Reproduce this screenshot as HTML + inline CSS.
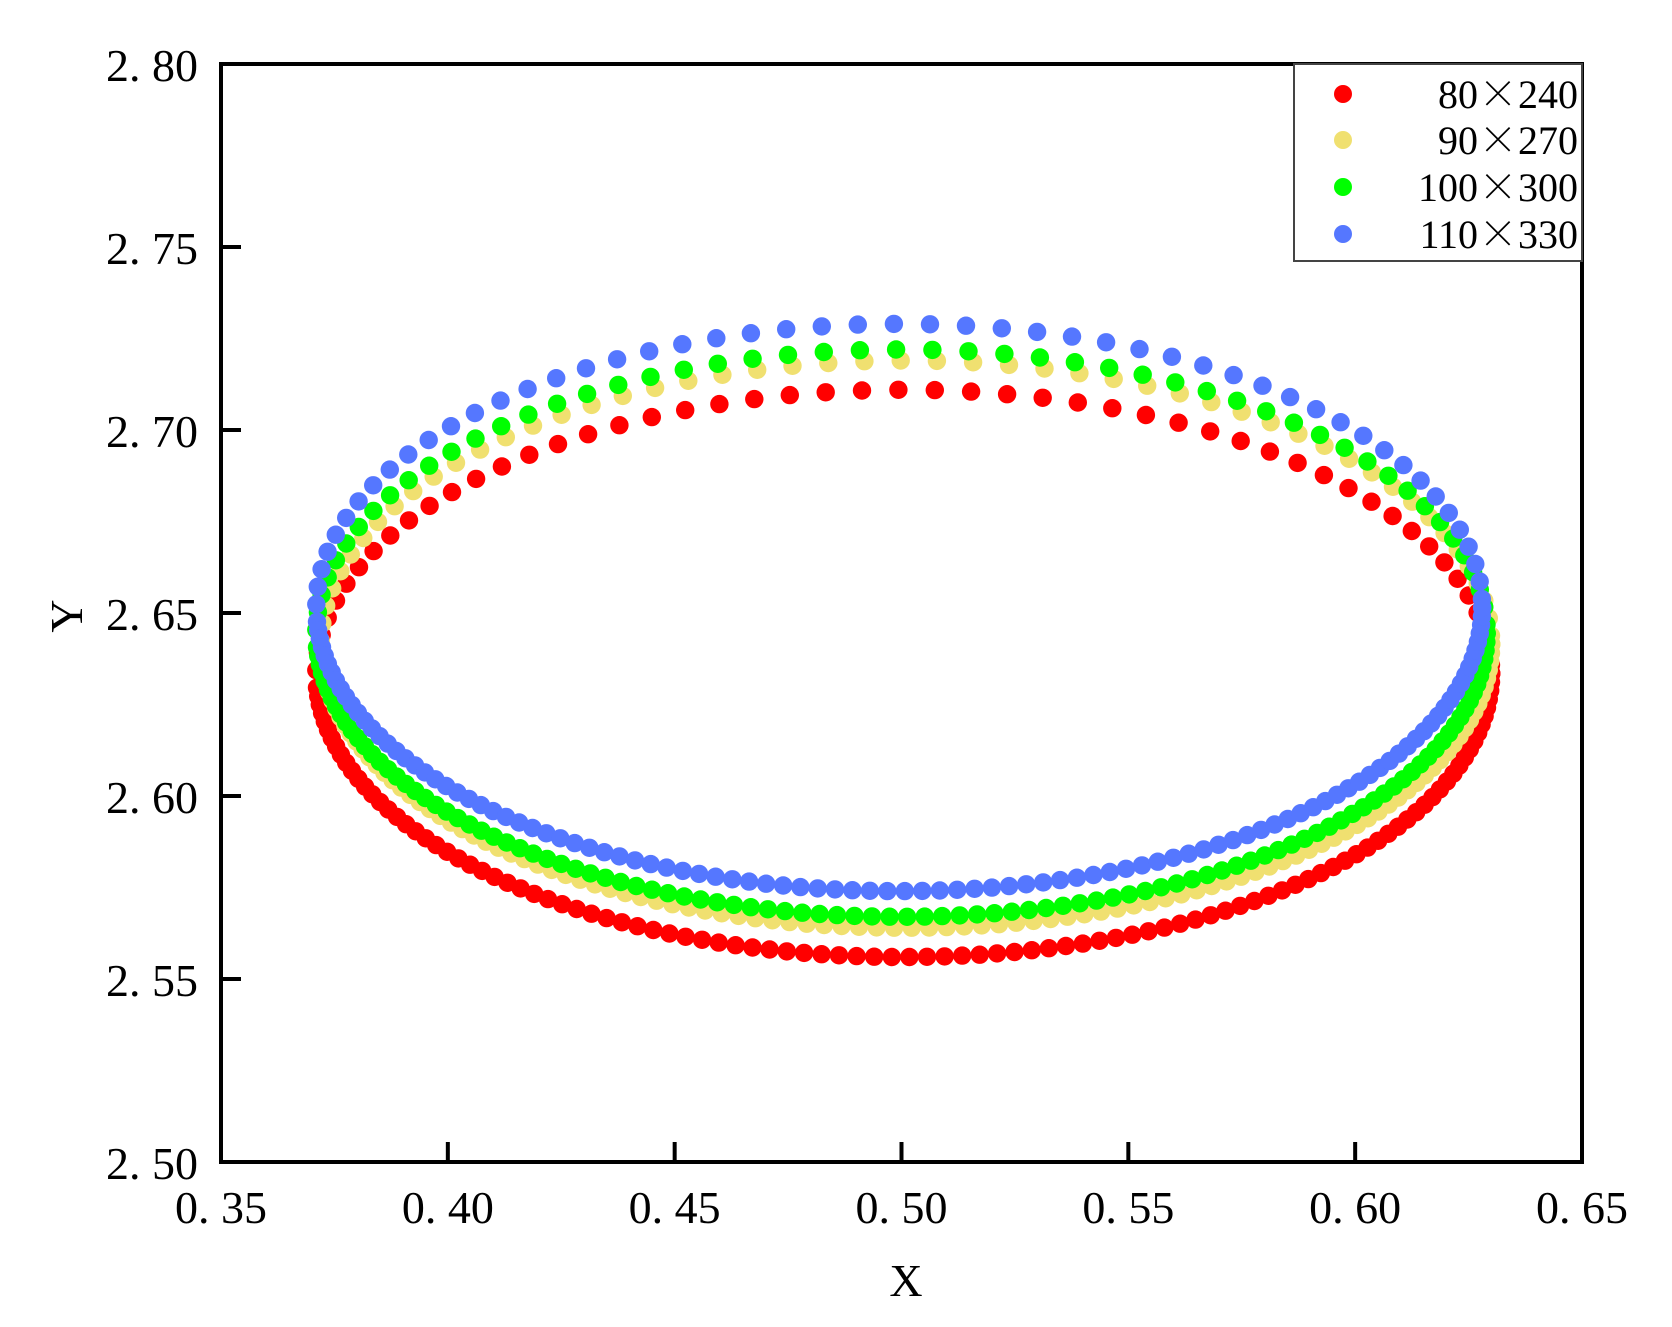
<!DOCTYPE html>
<html><head><meta charset="utf-8"><style>
html,body{margin:0;padding:0;background:#fff;}
svg{display:block;}
text{font-family:"Liberation Serif","Noto Serif CJK SC",serif;fill:#000;}
.cj{font-family:"Noto Serif CJK SC","Noto Sans CJK SC",serif;}
</style></head><body>
<svg id="s" width="1672" height="1327" viewBox="0 0 1672 1327" xmlns="http://www.w3.org/2000/svg">
<g id="pts"></g>
<rect x="221" y="64" width="1361" height="1098" fill="none" stroke="#000" stroke-width="4"/>
<g stroke="#000" stroke-width="4" id="ticks"></g>
<g font-size="46" id="labels"></g>
<text x="906" y="1296" font-size="46" text-anchor="middle">X</text>
<text x="0" y="0" font-size="46" text-anchor="middle" transform="translate(82,616) rotate(-90)">Y</text>
<rect x="1294" y="64" width="288" height="197" fill="#fff" stroke="#444" stroke-width="2"/>
<circle cx="1343" cy="94" r="9" fill="#ff0000"/>
<circle cx="1343" cy="140" r="9" fill="#f0e070"/>
<circle cx="1343" cy="187" r="9" fill="#00ff00"/>
<circle cx="1343" cy="234" r="9" fill="#5577ff"/>
<g font-size="40" text-anchor="end">
<text x="1578" y="108">80<tspan class="cj">×</tspan>240</text>
<text x="1578" y="154">90<tspan class="cj">×</tspan>270</text>
<text x="1578" y="201">100<tspan class="cj">×</tspan>300</text>
<text x="1578" y="248">110<tspan class="cj">×</tspan>330</text>
</g>
</svg>
<script>
var NS="http://www.w3.org/2000/svg";
var Y1=1162,H=1098;
function px(x){return 221+(x-0.35)/0.30*1361;}
function py(y){return Y1-(y-2.5)/0.30*H;}
var t=document.getElementById('ticks'),l=document.getElementById('labels');
for(var i=0;i<=6;i++){
 var x=221+i*1361/6, y=Y1-i*H/6;
 if(i>0&&i<6){
  var a=document.createElementNS(NS,'line');a.setAttribute('x1',x);a.setAttribute('x2',x);a.setAttribute('y1',Y1);a.setAttribute('y2',Y1-20);t.appendChild(a);
  var b=document.createElementNS(NS,'line');b.setAttribute('x1',221);b.setAttribute('x2',241);b.setAttribute('y1',y);b.setAttribute('y2',y);t.appendChild(b);
 }
 var xl=document.createElementNS(NS,'text');xl.setAttribute('x',x);xl.setAttribute('y',1223);xl.setAttribute('text-anchor','middle');
 xl.textContent=(0.35+i*0.05).toFixed(2).replace('.','. ');l.appendChild(xl);
 var yl=document.createElementNS(NS,'text');yl.setAttribute('x',198);yl.setAttribute('y',y+17);yl.setAttribute('text-anchor','end');
 yl.textContent=(2.5+i*0.05).toFixed(2).replace('.','. ');l.appendChild(yl);
}
var g=document.getElementById('pts');
var series=[
 {c:'#ff0000',cx:0.5005,a:0.1295,cy:2.6335,b:0.0775},
 {c:'#f0e070',cx:0.501,a:0.1290,cy:2.6415,b:0.0775},
 {c:'#00ff00',cx:0.500,a:0.1290,cy:2.6445,b:0.0775},
 {c:'#5577ff',cx:0.4995,a:0.1285,cy:2.6515,b:0.0775}
];
series.forEach(function(s){
 var th=0;
 while(th<2*Math.PI){
  var X=s.cx+s.a*Math.cos(th), Y=s.cy+s.b*Math.sin(th);
  var c=document.createElementNS(NS,'circle');
  c.setAttribute('cx',px(X).toFixed(1));c.setAttribute('cy',py(Y).toFixed(1));
  c.setAttribute('r',9.2);c.setAttribute('fill',s.c);g.appendChild(c);
  var top=Math.sin(th)>0;
  th+= top ? 0.062 : 0.03;
 }
});
</script>
</body></html>
